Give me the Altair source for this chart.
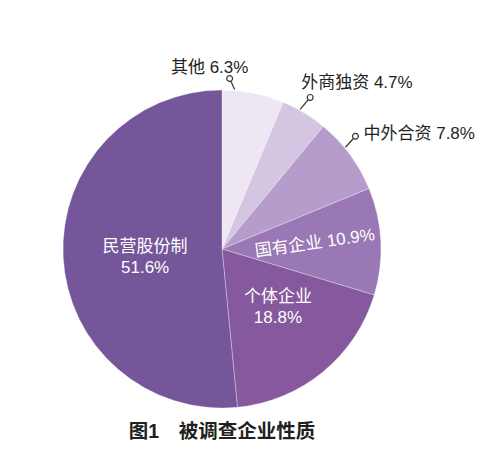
import math
import altair as alt
import pandas as pd

# ---------------- data ----------------
categories = ["其他", "外商独资", "中外合资", "国有企业", "个体企业", "民营股份制"]
values = [6.3, 4.7, 7.8, 10.9, 18.8, 51.6]
value_labels = ["6.3%", "4.7%", "7.8%", "10.9%", "18.8%", "51.6%"]
title_text = "图1\u3000被调查企业性质"

# ---------------- style / layout ----------------
colors = ["#eee6f3", "#d4c5e2", "#b59ccb", "#9a77b5", "#86599e", "#75569a"]
W, H = 484, 437
CX, CY = 214, 241      # pie centre (chart px)
R = 159                # pie radius
FONT = '"Liberation Sans", "Noto Sans CJK SC", sans-serif'
DARK = "#231f20"

# outside labels: (fraction of slice where leader starts, leader dx, leader dy, text dx, text dy, align)
outside = {
    "其他": (0.20, -5, -11, -20, -11, "center"),
    "外商独资": (0.39, 10, -12, -9, -14, "left"),
    "中外合资": (0.39, 10, -11, 8, -2, "left"),
}
# inside labels: (label radius, dx, dy, rotation, two-line)
inside = {
    "国有企业": (95, -2, -1, 352, False),
    "个体企业": (74, 9, -9, 0, True),
    "民营股份制": (77, 0, -6, 0, True),
}

total = sum(values)
starts, s = [], 0.0
for v in values:
    starts.append(s)
    s += v

df = pd.DataFrame({"category": categories, "value": values, "idx": range(len(values))})


def polar(angle_deg, r):
    a = math.radians(angle_deg)
    return CX + r * math.sin(a), CY - r * math.cos(a)


out_rows, in_rows = [], []
for i, c in enumerate(categories):
    a0 = starts[i] / total * 360
    a1 = (starts[i] + values[i]) / total * 360
    if c in outside:
        frac, ldx, ldy, tdx, tdy, al = outside[c]
        x0, y0 = polar(a0 + frac * (a1 - a0), R + 1)
        x1, y1 = x0 + ldx, y0 + ldy
        out_rows.append(dict(x0=x0, y0=y0, x1=x1, y1=y1, tx=x1 + tdx, ty=y1 + tdy,
                             anchor=al, label=f"{c} {value_labels[i]}"))
    if c in inside:
        r, dx, dy, rot, two = inside[c]
        x, y = polar((a0 + a1) / 2, r)
        txt = f"{c}\n{value_labels[i]}" if two else f"{c} {value_labels[i]}"
        in_rows.append(dict(x=x + dx, y=y + dy, rot=rot, label=txt))

odf = pd.DataFrame(out_rows)
idf = pd.DataFrame(in_rows)

pie = alt.Chart(df).mark_arc(outerRadius=R, stroke="white", strokeWidth=0.6, strokeOpacity=0.5).encode(
    theta=alt.Theta("value:Q", stack=True),
    order=alt.Order("idx:Q", sort="ascending"),
    color=alt.Color("category:N", scale=alt.Scale(domain=categories, range=colors), legend=None),
    x=alt.value(CX),
    y=alt.value(CY),
)

px = lambda f: alt.X(f, type="quantitative", scale=None, axis=None)
py = lambda f: alt.Y(f, type="quantitative", scale=None, axis=None)

leaders = alt.Chart(odf).mark_rule(color="#333333", strokeWidth=1.2).encode(
    x=px("x0"), y=py("y0"), x2="x1", y2="y1"
)
dots = alt.Chart(odf).mark_point(shape="circle", filled=True, fill="white", stroke="#333333",
                                 strokeWidth=1.2, size=34, opacity=1).encode(
    x=px("x1"), y=py("y1")
)
out_left = alt.Chart(odf[odf["anchor"] == "left"]).mark_text(
    align="left", baseline="middle", font=FONT, fontSize=17, color=DARK
).encode(x=px("tx"), y=py("ty"), text="label:N")
out_center = alt.Chart(odf[odf["anchor"] == "center"]).mark_text(
    align="center", baseline="middle", font=FONT, fontSize=17, color=DARK
).encode(x=px("tx"), y=py("ty"), text="label:N")

in_text = alt.Chart(idf).mark_text(
    align="center", baseline="middle", font=FONT, fontSize=17, color="white",
    lineBreak="\n", lineHeight=21
).encode(x=px("x"), y=py("y"), text="label:N", angle=alt.Angle("rot:Q", scale=None))

title = alt.Chart(pd.DataFrame({"t": [title_text]})).mark_text(
    align="center", baseline="middle", font=FONT, fontSize=19.5, fontWeight="bold", color=DARK
).encode(x=alt.value(CX), y=alt.value(424), text="t:N")

chart = alt.layer(pie, leaders, dots, out_left, out_center, in_text, title).properties(
    width=W, height=H, autosize=alt.AutoSizeParams(type="none"), padding=0, background="white"
).configure_view(stroke=None)

chart.save("out.html", embed_options={"renderer": "svg", "actions": False})
